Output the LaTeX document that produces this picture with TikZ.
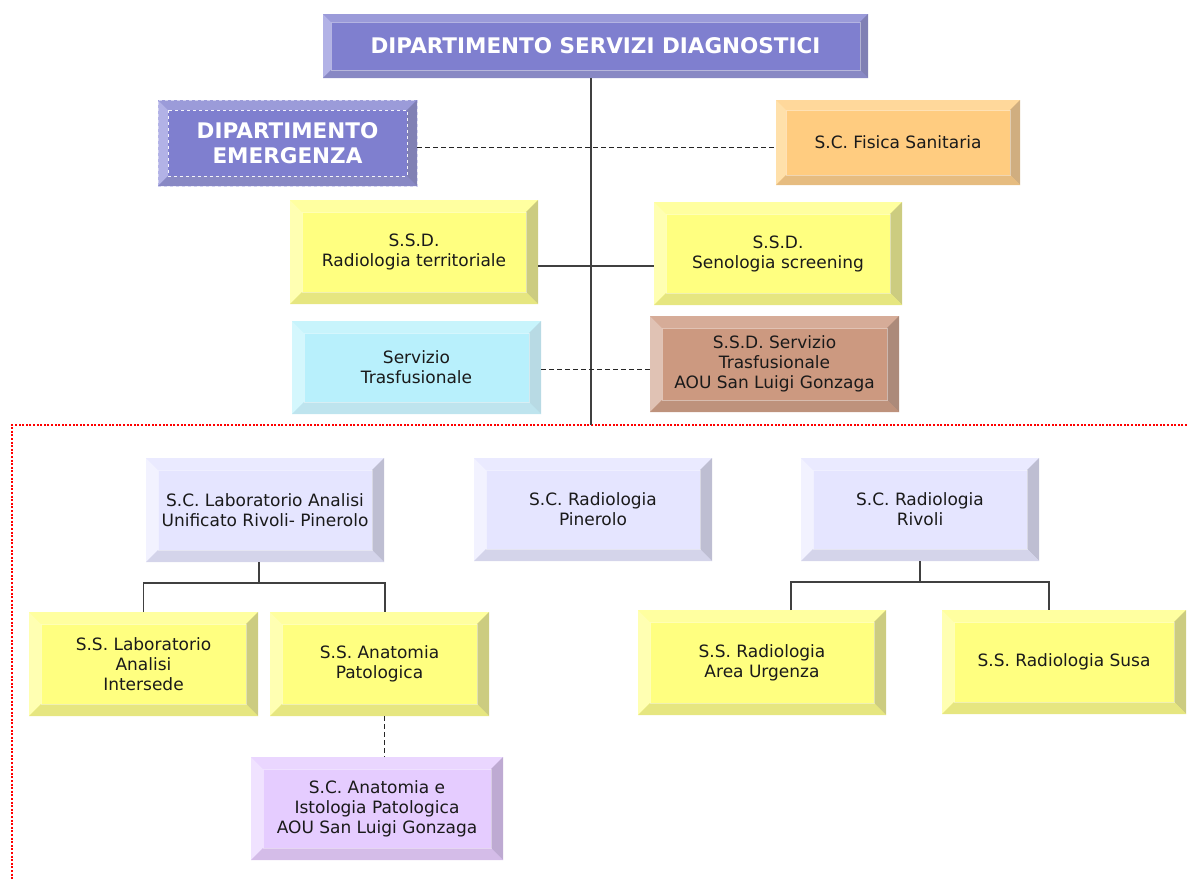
\documentclass[tikz,border=0pt]{standalone}
\usepackage{fontspec}
\setmainfont{DejaVu Sans}
\newcommand\bevw{12pt}
\definecolor{txt}{RGB}{26,26,26}
\definecolor{lineC}{RGB}{64,64,64}
% purple
\definecolor{pF}{RGB}{127,127,207}\definecolor{pT}{RGB}{155,155,217}\definecolor{pL}{RGB}{178,178,230}\definecolor{pR}{RGB}{128,128,180}\definecolor{pB}{RGB}{136,136,196}
% orange
\definecolor{oF}{RGB}{255,204,128}\definecolor{oT}{RGB}{255,216,155}\definecolor{oL}{RGB}{255,224,170}\definecolor{oR}{RGB}{208,174,128}\definecolor{oB}{RGB}{230,188,128}
% yellow
\definecolor{yF}{RGB}{255,255,128}\definecolor{yT}{RGB}{255,255,160}\definecolor{yL}{RGB}{255,255,178}\definecolor{yR}{RGB}{204,204,128}\definecolor{yB}{RGB}{230,230,128}
% cyan
\definecolor{cF}{RGB}{184,240,252}\definecolor{cT}{RGB}{200,244,252}\definecolor{cL}{RGB}{212,247,253}\definecolor{cR}{RGB}{184,218,228}\definecolor{cB}{RGB}{190,228,238}
% brown
\definecolor{bF}{RGB}{204,153,128}\definecolor{bT}{RGB}{214,172,152}\definecolor{bL}{RGB}{224,194,180}\definecolor{bR}{RGB}{172,138,122}\definecolor{bB}{RGB}{190,146,124}
% lavender
\definecolor{lF}{RGB}{229,229,255}\definecolor{lT}{RGB}{234,234,255}\definecolor{lL}{RGB}{242,242,255}\definecolor{lR}{RGB}{190,190,210}\definecolor{lB}{RGB}{212,212,234}
% violet
\definecolor{vF}{RGB}{229,204,255}\definecolor{vT}{RGB}{234,214,255}\definecolor{vL}{RGB}{240,226,255}\definecolor{vR}{RGB}{190,170,210}\definecolor{vB}{RGB}{212,188,232}
\tikzset{
  bev/.store in=\bevw,
  bevbox/.style n args={5}{rectangle, inner sep=0pt, outer sep=0pt, align=center, fill=#1,
    text=txt, font=\fontsize{17}{20}\selectfont,
    path picture={
      \path (path picture bounding box.north west) coordinate (bA)
            (path picture bounding box.north east) coordinate (bB)
            (path picture bounding box.south east) coordinate (bC)
            (path picture bounding box.south west) coordinate (bD);
      \fill[#2] (bA) -- (bB) -- ([shift={(-\bevw,-\bevw)}]bB) -- ([shift={(\bevw,-\bevw)}]bA) -- cycle;
      \fill[#3] (bA) -- ([shift={(\bevw,-\bevw)}]bA) -- ([shift={(\bevw,\bevw)}]bD) -- (bD) -- cycle;
      \fill[#4] (bB) -- (bC) -- ([shift={(-\bevw,\bevw)}]bC) -- ([shift={(-\bevw,-\bevw)}]bB) -- cycle;
      \fill[#5] (bD) -- (bC) -- ([shift={(-\bevw,\bevw)}]bC) -- ([shift={(\bevw,\bevw)}]bD) -- cycle;
      \draw[white, opacity=.4, line width=.9pt] ([shift={(\bevw,-\bevw)}]bA) rectangle ([shift={(-\bevw,\bevw)}]bC);
    }},
  purp/.style={bevbox={pF}{pT}{pL}{pR}{pB}, text=white, font=\fontsize{21.5}{24.5}\selectfont\bfseries},
  orng/.style={bevbox={oF}{oT}{oL}{oR}{oB}},
  yelb/.style={bevbox={yF}{yT}{yL}{yR}{yB}},
  cyab/.style={bevbox={cF}{cT}{cL}{cR}{cB}},
  brnb/.style={bevbox={bF}{bT}{bL}{bR}{bB}},
  lavb/.style={bevbox={lF}{lT}{lL}{lR}{lB}},
  viob/.style={bevbox={vF}{vT}{vL}{vR}{vB}},
  conn/.style={draw=lineC, line width=1.3pt},
  dconn/.style={draw=black!85, line width=0.9pt, dash pattern=on 5pt off 3pt},
  reddot/.style={draw=red, line width=2.4pt, dash pattern=on 2pt off 1.6pt},
}
\begin{document}
\begin{tikzpicture}[x=1pt,y=-1pt]
\useasboundingbox (0,0) rectangle (1187,879);
% boxes
\node[purp, bev=8pt, minimum width=545pt, minimum height=64pt] (title) at (595.5,46) {DIPARTIMENTO SERVIZI DIAGNOSTICI};
\node[purp, bev=10pt, draw=pL!60!white, dashed, line width=.9pt, minimum width=259pt, minimum height=86pt] (emerg) at (287.5,143) {DIPARTIMENTO\\EMERGENZA};
\draw[white, dashed, line width=.9pt, opacity=.85] ([shift={(10pt,-10pt)}]emerg.north west) rectangle ([shift={(-10pt,10pt)}]emerg.south east);
\node[orng, bev=10pt, minimum width=244pt, minimum height=85pt] (fisica) at (898,142.5) {S.C. Fisica Sanitaria};
\node[yelb, minimum width=248pt, minimum height=104pt] (radter) at (414,252) {S.S.D.\\Radiologia territoriale};
\node[yelb, minimum width=248pt, minimum height=103pt] (seno) at (778,253.5) {S.S.D.\\Senologia screening};
\node[cyab, minimum width=249pt, minimum height=93pt] (strasf) at (416.5,367.5) {Servizio\\Trasfusionale};
\node[brnb, minimum width=249pt, minimum height=96pt] (aou) at (774.5,364) {S.S.D. Servizio\\Trasfusionale\\AOU San Luigi Gonzaga};
\node[lavb, minimum width=238pt, minimum height=104pt] (lab) at (265,510) {S.C. Laboratorio Analisi\\Unificato Rivoli- Pinerolo};
\node[lavb, minimum width=238pt, minimum height=103pt] (pin) at (593,509.5) {S.C. Radiologia\\Pinerolo};
\node[lavb, minimum width=238pt, minimum height=103pt] (riv) at (920,509.5) {S.C. Radiologia\\Rivoli};
\node[yelb, minimum width=229pt, minimum height=104pt] (inter) at (143.5,664) {S.S. Laboratorio\\Analisi\\Intersede};
\node[yelb, minimum width=219pt, minimum height=104pt] (anat) at (379.5,664) {S.S. Anatomia\\Patologica};
\node[viob, minimum width=252pt, minimum height=103pt] (isto) at (377,808.5) {S.C. Anatomia e\\Istologia Patologica\\AOU San Luigi Gonzaga};
\node[yelb, minimum width=248pt, minimum height=105pt] (urg) at (762,662.5) {S.S. Radiologia\\Area Urgenza};
\node[yelb, minimum width=244pt, minimum height=104pt] (susa) at (1064,662) {S.S. Radiologia Susa};
% helper coordinates
\coordinate (trunkend) at (591,425);
\coordinate (emy) at (0,147);
\coordinate (ry) at (0,266);
\coordinate (ty) at (0,369);
\coordinate (labj) at (259,583);
\coordinate (labR) at (385,583);
\coordinate (ai) at (384,0);
\coordinate (rivL) at (791,582);
\coordinate (rivR) at (1049,582);
\coordinate (rtl) at (12,425);
\coordinate (rtr) at (1187,425);
\coordinate (rbl) at (12,879);
% connectors
\draw[reddot] (rtr) -- (rtl) -- (rbl);
\draw[conn] (title.south -| trunkend) -- (trunkend);
\draw[dconn] (emy -| emerg.east) -- (emy -| fisica.west);
\draw[conn] (ry -| radter.east) -- (ry -| seno.west);
\draw[dconn] (ty -| strasf.east) -- (ty -| aou.west);
\draw[conn] (lab.south -| labj) -- (labj);
\draw[conn] (inter.north) |- (labR) -- (labR |- anat.north);
\draw[dconn] (ai |- anat.south) -- (ai |- isto.north);
\draw[conn] (riv.south) -- (riv.south |- rivL);
\draw[conn] (rivL |- urg.north) -- (rivL) -- (rivR) -- (rivR |- susa.north);
\end{tikzpicture}
\end{document}
